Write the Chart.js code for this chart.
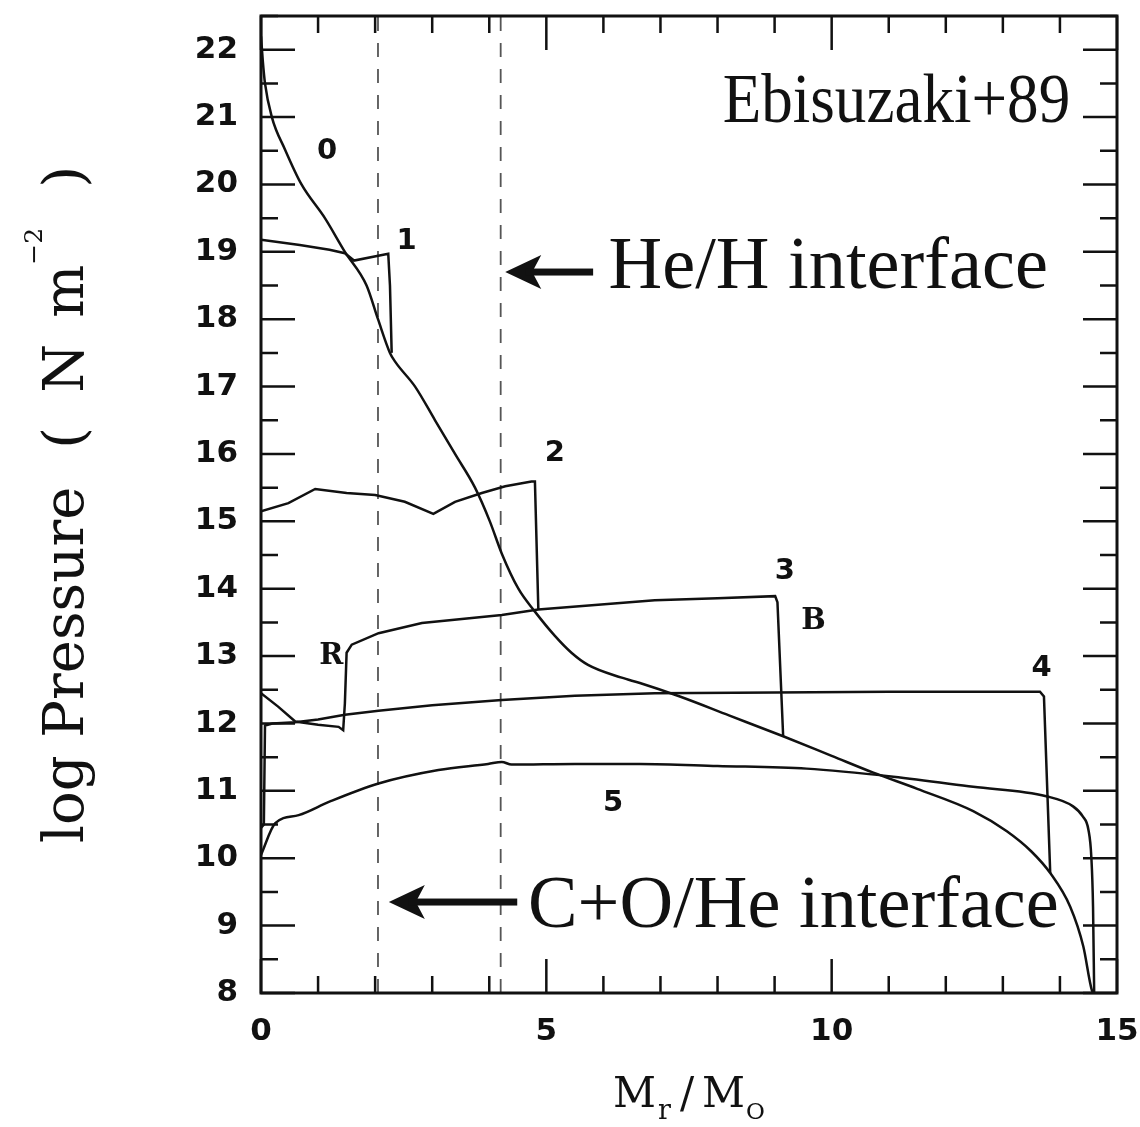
<!DOCTYPE html>
<html>
<head>
<meta charset="utf-8">
<script src="https://cdn.jsdelivr.net/npm/chart.js@4.4.1/dist/chart.umd.min.js"></script>
<style>
  html, body { margin: 0; padding: 0; background: #fff; }
  canvas { display: block; }
</style>
</head>
<body>
<canvas id="pressureChart" width="1140" height="1127"></canvas>
<script>
// Pressure profiles, log P against enclosed mass M_r (solar masses)
let mass0 = [0, 0.03, 0.07, 0.19, 0.42, 0.71, 1.12, 1.47, 1.85, 2.05, 2.26, 2.35, 2.70, 3.05, 3.40, 3.75, 4.01, 4.22, 4.51, 4.80, 5.15, 5.44, 5.73, 6.32, 6.64, 7.34, 8.20, 9.15, 10.0, 10.73, 11.5, 12.48, 13.07, 13.5, 13.83, 14.18, 14.41, 14.56, 14.6];
let logP0 = [22.2, 21.85, 21.5, 21.0, 20.52, 20.0, 19.5, 19.0, 18.5, 18.0, 17.5, 17.37, 17.0, 16.5, 16.0, 15.5, 15.0, 14.52, 14.0, 13.66, 13.3, 13.05, 12.87, 12.68, 12.6, 12.4, 12.12, 11.81, 11.52, 11.27, 11.03, 10.70, 10.40, 10.1, 9.78, 9.28, 8.69, 8.04, 8.0];

let mass1 = [0, 0.68, 1.2, 1.47, 1.63, 2.23, 2.26, 2.29];
let logP1 = [19.18, 19.1, 19.03, 18.98, 18.87, 18.97, 18.5, 17.5];

let mass2 = [0, 0.48, 0.95, 1.5, 2.0, 2.52, 3.02, 3.40, 3.87, 4.28, 4.74, 4.80, 4.86];
let logP2 = [15.15, 15.27, 15.48, 15.42, 15.39, 15.29, 15.11, 15.29, 15.42, 15.52, 15.59, 15.59, 13.69];

let mass3 = [0, 0.3, 0.6, 1.0, 1.36, 1.44, 1.47, 1.50, 1.59, 2.06, 2.82, 4.22, 4.86, 6.9, 8.0, 9.01, 9.05, 9.15];
let logP3 = [12.45, 12.25, 12.03, 11.98, 11.95, 11.90, 12.3, 13.05, 13.17, 13.34, 13.49, 13.61, 13.69, 13.83, 13.86, 13.89, 13.8, 11.81];

let mass4 = [0, 0.05, 0.07, 0.2, 0.6, 1.0, 1.47, 2.06, 3.0, 4.22, 5.5, 6.9, 9.0, 11.0, 13.0, 13.65, 13.72, 13.83];
let logP4 = [10.45, 10.5, 11.97, 12.0, 12.02, 12.06, 12.13, 12.19, 12.27, 12.35, 12.41, 12.45, 12.46, 12.47, 12.47, 12.47, 12.4, 9.78];

let mass5 = [0, 0.25, 0.66, 1.2, 2.06, 3.11, 3.98, 4.22, 4.39, 5.5, 6.64, 8.0, 9.56, 11.08, 12.48, 13.76, 14.23, 14.4, 14.5, 14.55, 14.58, 14.6];
let logP5 = [10.05, 10.52, 10.64, 10.84, 11.11, 11.31, 11.40, 11.43, 11.39, 11.40, 11.40, 11.37, 11.33, 11.21, 11.06, 10.92, 10.77, 10.62, 10.42, 10.02, 9.28, 8.0];

// composition interfaces (dashed verticals)
let heHInterface = 4.2;
let coHeInterface = 2.05;

let xTicks = [0, 5, 10, 15];
let yTicks = [8, 9, 10, 11, 12, 13, 14, 15, 16, 17, 18, 19, 20, 21, 22];

// curve tags
let tagText = ['0', '1', '2', '3', 'B', 'R', '4', '5'];
let tagMass = [1.16, 2.55, 5.15, 9.18, 9.68, 1.23, 13.68, 6.17];
let tagLogP = [20.49, 19.15, 16.01, 14.25, 13.51, 13.0, 12.82, 10.82];

// annotations
let noteText = ['Ebisuzaki+89', 'He/H interface', 'C+O/He interface'];
let noteLeft = [8.09, 6.09, 4.68];
let noteRight = [14.18, 13.79, 13.98];
let noteBase = [20.92, 18.47, 8.98];
let noteSize = [70, 74, 74];

let arrowTip = [4.28, 2.24];
let arrowTail = [5.82, 4.49];
let arrowLevel = [18.70, 9.35];

function pts(xs, ys) {
    return xs.map((x, i) => ({ x: x, y: ys[i] }));
}

function curve(xs, ys, smooth) {
    return {
        data: pts(xs, ys),
        borderColor: '#111',
        borderWidth: 2.5,
        showLine: true,
        pointRadius: 0,
        fill: false,
        tension: 0,
        cubicInterpolationMode: smooth ? 'monotone' : 'default'
    };
}

function dashed(m) {
    return {
        data: [{ x: m, y: 8 }, { x: m, y: 22.5 }],
        borderColor: '#555',
        borderWidth: 1.8,
        borderDash: [14, 12],
        showLine: true,
        pointRadius: 0,
        fill: false
    };
}

// draws text squeezed/stretched to span [left,right]
function fitText(ctx, str, left, right, base, font) {
    ctx.font = font;
    let w = ctx.measureText(str).width;
    ctx.save();
    ctx.translate(left, base);
    ctx.scale((right - left) / w, 1);
    ctx.textAlign = 'left';
    ctx.textBaseline = 'alphabetic';
    ctx.fillText(str, 0, 0);
    ctx.restore();
}

// sequence of text pieces along a line, centred on cx; pieces may be raised/lowered
function drawPieces(ctx, pieces, cx) {
    let total = 0;
    pieces.forEach(p => {
        ctx.font = p.font;
        p.w = ctx.measureText(p.t).width;
        total += p.gap + p.w;
    });
    let pos = cx - total / 2;
    ctx.textAlign = 'left';
    ctx.textBaseline = 'alphabetic';
    pieces.forEach(p => {
        pos += p.gap;
        ctx.font = p.font;
        ctx.fillText(p.t, pos, p.dy);
        pos += p.w;
    });
}

function arrow(ctx, tipX, tailX, py) {
    ctx.beginPath();
    ctx.moveTo(tipX, py);
    ctx.lineTo(tipX + 36, py - 17);
    ctx.lineTo(tipX + 27, py);
    ctx.lineTo(tipX + 36, py + 17);
    ctx.closePath();
    ctx.fill();
    ctx.fillRect(tipX + 20, py - 3.5, tailX - tipX - 20, 7);
}

const frameAndNotes = {
    id: 'frameAndNotes',
    afterDatasetsDraw(chart) {
        const { ctx, chartArea: a, scales: { x, y } } = chart;
        ctx.save();
        ctx.strokeStyle = '#111';
        ctx.fillStyle = '#111';

        // inward tick marks on all four sides
        ctx.lineWidth = 2.5;
        ctx.beginPath();
        for (let v = 0; v <= 15; v += 1) {
            const px = x.getPixelForValue(v);
            const len = v % 5 === 0 ? 34 : 17;
            ctx.moveTo(px, a.bottom); ctx.lineTo(px, a.bottom - len);
            ctx.moveTo(px, a.top); ctx.lineTo(px, a.top + len);
        }
        for (let v = 8; v <= 22.5; v += 0.5) {
            const py = y.getPixelForValue(v);
            const len = v % 1 === 0 ? 34 : 17;
            ctx.moveTo(a.left, py); ctx.lineTo(a.left + len, py);
            ctx.moveTo(a.right, py); ctx.lineTo(a.right - len, py);
        }
        ctx.stroke();
        ctx.lineWidth = 3;
        ctx.strokeRect(a.left, a.top, a.right - a.left, a.bottom - a.top);

        // curve tags
        ctx.textAlign = 'center';
        ctx.textBaseline = 'middle';
        tagText.forEach((t, i) => {
            ctx.font = /[0-9]/.test(t) ? 'bold 29px "DejaVu Sans"' : 'bold 29px "DejaVu Serif"';
            ctx.fillText(t, x.getPixelForValue(tagMass[i]), y.getPixelForValue(tagLogP[i]));
        });

        // annotations
        noteText.forEach((t, i) => {
            fitText(ctx, t, x.getPixelForValue(noteLeft[i]), x.getPixelForValue(noteRight[i]),
                y.getPixelForValue(noteBase[i]), noteSize[i] + 'px "Liberation Serif"');
        });
        arrowTip.forEach((m, i) => {
            arrow(ctx, x.getPixelForValue(m), x.getPixelForValue(arrowTail[i]), y.getPixelForValue(arrowLevel[i]));
        });

        // x axis title
        ctx.save();
        ctx.translate(0, a.bottom + 114);
        drawPieces(ctx, [
            { t: 'M', font: '42px "DejaVu Serif"', gap: 0, dy: 0 },
            { t: 'r', font: '27px "DejaVu Serif"', gap: 2, dy: 12 },
            { t: '/', font: '42px "DejaVu Serif"', gap: 9, dy: 0 },
            { t: 'M', font: '42px "DejaVu Serif"', gap: 8, dy: 0 },
            { t: 'O', font: '23px "DejaVu Serif"', gap: 1, dy: 12 }
        ], (a.left + a.right) / 2);
        ctx.restore();

        // y axis title
        ctx.save();
        ctx.translate(83, (a.top + a.bottom) / 2);
        ctx.rotate(-Math.PI / 2);
        drawPieces(ctx, [
            { t: 'log Pressure', font: '56px "DejaVu Serif"', gap: 0, dy: 0 },
            { t: '(', font: '56px "DejaVu Serif"', gap: 38, dy: 0 },
            { t: 'N', font: '56px "DejaVu Serif"', gap: 34, dy: 0 },
            { t: 'm', font: '56px "DejaVu Serif"', gap: 26, dy: 0 },
            { t: '\u22122', font: '25px "DejaVu Serif"', gap: 0, dy: -41 },
            { t: ')', font: '56px "DejaVu Serif"', gap: 40, dy: 0 }
        ], 0);
        ctx.restore();

        ctx.restore();
    }
};

let ctx = document.getElementById('pressureChart').getContext('2d');
let myChart = new Chart(ctx, {
    type: 'scatter',
    data: {
        datasets: [
            curve(mass0, logP0, true),
            curve(mass1, logP1),
            curve(mass2, logP2),
            curve(mass3, logP3),
            curve(mass4, logP4),
            curve(mass5, logP5, true),
            dashed(heHInterface),
            dashed(coHeInterface)
        ]
    },
    options: {
        responsive: false,
        animation: false,
        devicePixelRatio: 1,
        layout: { padding: { top: 16, right: 23, left: 0, bottom: 0 } },
        plugins: { legend: { display: false }, tooltip: { enabled: false } },
        scales: {
            x: {
                type: 'linear',
                min: 0,
                max: 15,
                grid: { display: false, drawTicks: false },
                border: { display: false },
                afterFit: s => { s.height = 134; s.paddingLeft = 0; s.paddingRight = 0; },
                afterBuildTicks: s => { s.ticks = xTicks.map(v => ({ value: v })); },
                ticks: {
                    color: '#111',
                    padding: 20,
                    maxRotation: 0,
                    autoSkip: false,
                    font: { family: 'DejaVu Sans', size: 31, weight: 'bold' }
                }
            },
            y: {
                type: 'linear',
                min: 8,
                max: 22.5,
                grid: { display: false, drawTicks: false },
                border: { display: false },
                afterFit: s => { s.width = 261; s.paddingTop = 0; s.paddingBottom = 0; },
                afterBuildTicks: s => { s.ticks = yTicks.map(v => ({ value: v })); },
                ticks: {
                    color: '#111',
                    padding: 23,
                    autoSkip: false,
                    font: { family: 'DejaVu Sans', size: 31, weight: 'bold' }
                }
            }
        }
    },
    plugins: [frameAndNotes]
});
</script>
</body>
</html>
